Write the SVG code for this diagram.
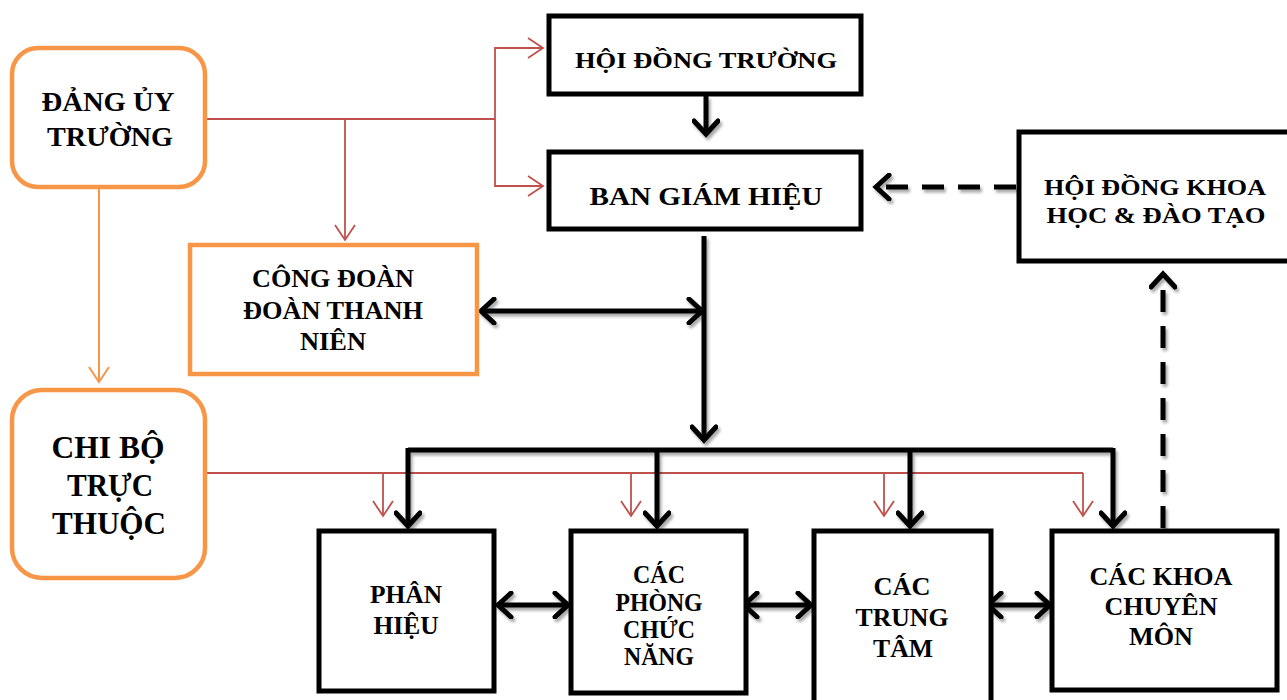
<svg xmlns="http://www.w3.org/2000/svg" width="1287" height="700" viewBox="0 0 1287 700">
<defs>
<style>
text{font-family:"Liberation Serif","Times New Roman",serif;font-weight:bold;fill:#000;text-anchor:middle}
.t24{font-size:24px}
.t25{font-size:25px}
.t26{font-size:26px}
.t27{font-size:28px}
.t31{font-size:31px}
.box{fill:#fff;stroke:#000;stroke-width:5}
.obox{fill:#fff;stroke:#F79646;stroke-width:4.5}
.blk{fill:none;stroke:#000;stroke-width:5}
.dash{fill:none;stroke:#000;stroke-width:5;stroke-dasharray:22 14}
.red{fill:none;stroke:#C0504D;stroke-width:1.8}
.org{fill:none;stroke:#F79646;stroke-width:2}
</style>
<marker id="ab" markerUnits="userSpaceOnUse" viewBox="0 0 20 28" markerWidth="20" markerHeight="28" refX="16" refY="14" orient="auto-start-reverse">
<path d="M3,2 L16,14 L3,26" fill="none" stroke="#000" stroke-width="5" stroke-linecap="round" stroke-linejoin="miter"/>
</marker>
<marker id="ar" markerUnits="userSpaceOnUse" viewBox="0 0 18 22" markerWidth="18" markerHeight="22" refX="16" refY="11" orient="auto">
<path d="M1,1 L16,11 L1,21" fill="none" stroke="#C0504D" stroke-width="1.8"/>
</marker>
<marker id="ao" markerUnits="userSpaceOnUse" viewBox="0 0 18 22" markerWidth="18" markerHeight="22" refX="16" refY="11" orient="auto">
<path d="M1,1 L16,11 L1,21" fill="none" stroke="#F79646" stroke-width="2"/>
</marker>
<filter id="sh" x="-20%" y="-20%" width="140%" height="140%">
<feDropShadow dx="2" dy="3" stdDeviation="1.5" flood-color="#000" flood-opacity="0.35"/>
</filter>
</defs>
<rect width="1287" height="700" fill="#fff"/>

<g id="connectors">
<path class="red" d="M205,119 H495"/>
<path class="red" d="M495,119 V48 H543" marker-end="url(#ar)"/>
<path class="red" d="M495,119 V186 H543" marker-end="url(#ar)"/>
<path class="red" d="M345,119 V240" marker-end="url(#ar)"/>
<path class="org" d="M99,188 V382" marker-end="url(#ao)"/>
<path class="red" d="M205,473 H1083"/>
<path class="red" d="M383,473 V516" marker-end="url(#ar)"/>
<path class="red" d="M631,473 V516" marker-end="url(#ar)"/>
<path class="red" d="M884,473 V516" marker-end="url(#ar)"/>
<path class="red" d="M1083,473 V516" marker-end="url(#ar)"/>
<g filter="url(#sh)">
<path class="blk" d="M706,96 V134" marker-end="url(#ab)"/>
<path class="blk" d="M704,236 V440" marker-end="url(#ab)"/>
<path class="blk" d="M481,311 H702" marker-start="url(#ab)" marker-end="url(#ab)"/>
<path class="blk" d="M408,450 H1113"/>
<path class="blk" d="M408,448 V526" marker-end="url(#ab)"/>
<path class="blk" d="M657,450 V526" marker-end="url(#ab)"/>
<path class="blk" d="M910,450 V526" marker-end="url(#ab)"/>
<path class="blk" d="M1113,448 V526" marker-end="url(#ab)"/>
<path class="blk" d="M498,605 H568" marker-start="url(#ab)" marker-end="url(#ab)"/>
<path class="blk" d="M744,605 H811" marker-start="url(#ab)" marker-end="url(#ab)"/>
<path class="blk" d="M988,605 H1050" marker-start="url(#ab)" marker-end="url(#ab)"/>
<path class="dash" d="M1016,187 H876" marker-end="url(#ab)"/>
<path class="dash" d="M1163,528 V274" marker-end="url(#ab)"/>
</g>
</g>

<g id="dang-uy">
<rect class="obox" x="12" y="48" width="193" height="139" rx="26"/>
<text class="t27" x="108" y="111" textLength="133" lengthAdjust="spacingAndGlyphs">ĐẢNG ỦY</text>
<text class="t27" x="110" y="146" textLength="126" lengthAdjust="spacingAndGlyphs">TRƯỜNG</text>
</g>
<g id="chi-bo">
<rect class="obox" x="12" y="390" width="193" height="188" rx="30"/>
<text class="t31" x="108" y="458" textLength="113" lengthAdjust="spacingAndGlyphs">CHI BỘ</text>
<text class="t31" x="110" y="496" textLength="86" lengthAdjust="spacingAndGlyphs">TRỰC</text>
<text class="t31" x="109" y="534" textLength="114" lengthAdjust="spacingAndGlyphs">THUỘC</text>
</g>
<g id="cong-doan">
<rect class="obox" x="190" y="245" width="287" height="129"/>
<text class="t26" x="333" y="287" textLength="162" lengthAdjust="spacingAndGlyphs">CÔNG ĐOÀN</text>
<text class="t26" x="333" y="319" textLength="180" lengthAdjust="spacingAndGlyphs">ĐOÀN THANH</text>
<text class="t26" x="333" y="350" textLength="66" lengthAdjust="spacingAndGlyphs">NIÊN</text>
</g>
<g id="hoi-dong-truong">
<rect class="box" x="549" y="16" width="312" height="78"/>
<text class="t24" x="706" y="68" textLength="262" lengthAdjust="spacingAndGlyphs">HỘI ĐỒNG TRƯỜNG</text>
</g>
<g id="ban-giam-hieu">
<rect class="box" x="549" y="152" width="312" height="77"/>
<text class="t26" x="706" y="205" textLength="233" lengthAdjust="spacingAndGlyphs">BAN GIÁM HIỆU</text>
</g>
<g id="hoi-dong-khoa-hoc">
<rect class="box" x="1019" y="132" width="275" height="129"/>
<text class="t24" x="1155" y="195" textLength="222" lengthAdjust="spacingAndGlyphs">HỘI ĐỒNG KHOA</text>
<text class="t24" x="1156" y="223" textLength="219" lengthAdjust="spacingAndGlyphs">HỌC &amp; ĐÀO TẠO</text>
</g>
<g id="phan-hieu">
<rect class="box" x="319" y="531" width="175" height="160"/>
<text class="t25" x="406" y="603" textLength="72" lengthAdjust="spacingAndGlyphs">PHÂN</text>
<text class="t25" x="406" y="634" textLength="65" lengthAdjust="spacingAndGlyphs">HIỆU</text>
</g>
<g id="cac-phong">
<rect class="box" x="571" y="531" width="175" height="162"/>
<text class="t25" x="659" y="583" textLength="52" lengthAdjust="spacingAndGlyphs">CÁC</text>
<text class="t25" x="659" y="611" textLength="87" lengthAdjust="spacingAndGlyphs">PHÒNG</text>
<text class="t25" x="659" y="638" textLength="72" lengthAdjust="spacingAndGlyphs">CHỨC</text>
<text class="t25" x="659" y="665" textLength="70" lengthAdjust="spacingAndGlyphs">NĂNG</text>
</g>
<g id="cac-trung-tam">
<rect class="box" x="814" y="531" width="177" height="175"/>
<text class="t25" x="902" y="595" textLength="57" lengthAdjust="spacingAndGlyphs">CÁC</text>
<text class="t25" x="902" y="626" textLength="93" lengthAdjust="spacingAndGlyphs">TRUNG</text>
<text class="t25" x="903" y="657" textLength="60" lengthAdjust="spacingAndGlyphs">TÂM</text>
</g>
<g id="cac-khoa">
<rect class="box" x="1052" y="531" width="225" height="159"/>
<text class="t25" x="1161" y="585" textLength="143" lengthAdjust="spacingAndGlyphs">CÁC KHOA</text>
<text class="t25" x="1161" y="615" textLength="113" lengthAdjust="spacingAndGlyphs">CHUYÊN</text>
<text class="t25" x="1161" y="645" textLength="64" lengthAdjust="spacingAndGlyphs">MÔN</text>
</g>
</svg>
